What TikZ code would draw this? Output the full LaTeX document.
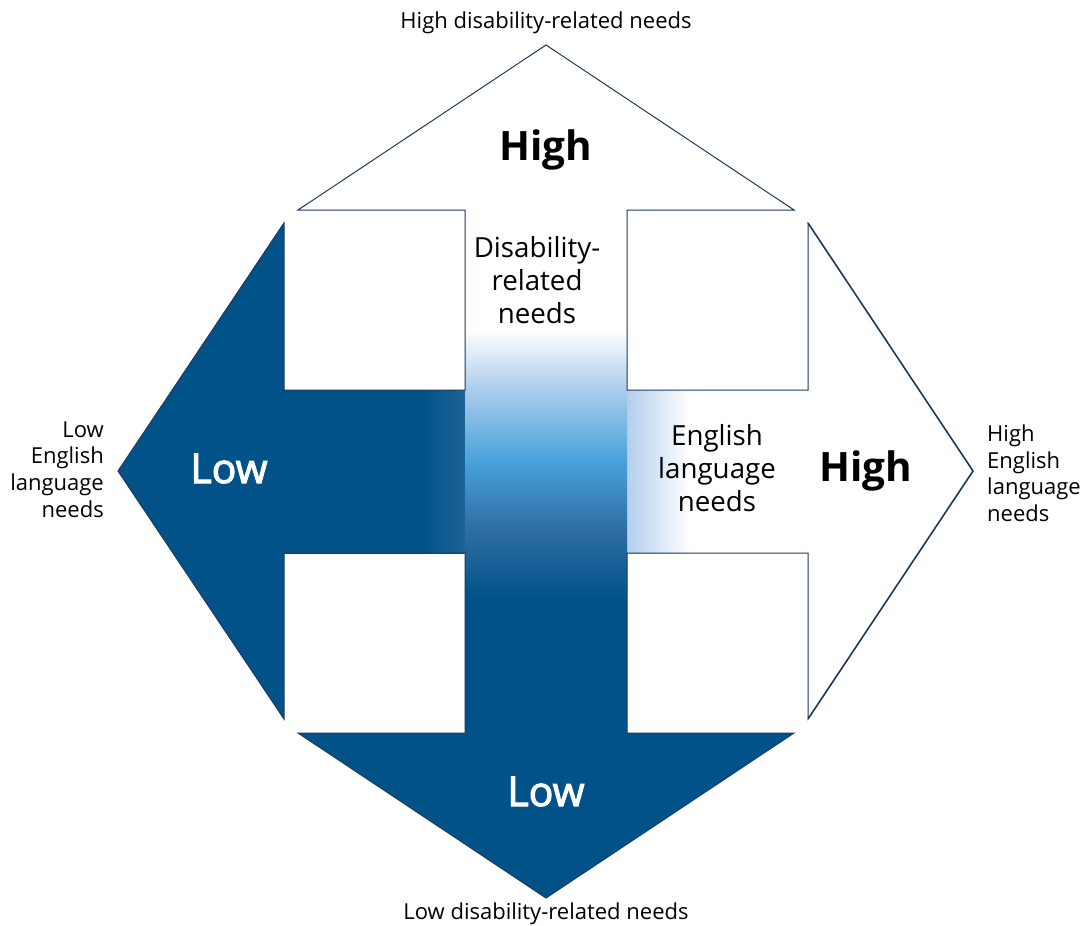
\documentclass[tikz,border=0pt]{standalone}
\usepackage{fontspec}
\setmainfont{Open Sans}
\newfontfamily\semib{Open Sans}[FakeBold=2.6]
\definecolor{dkblue}{HTML}{005288}
\definecolor{edge}{HTML}{1C3A5E}
\definecolor{vmidtwo}{HTML}{2C6EA3}
\definecolor{vmid}{HTML}{4AA2DB}
\definecolor{vlight}{HTML}{ACCCEC}
\definecolor{hmid}{HTML}{1D6396}
\definecolor{hlight}{HTML}{B3CFEE}
\pgfdeclareverticalshading{vshaft}{100bp}{color(0bp)=(dkblue); color(37.7bp)=(dkblue); color(44.4bp)=(vmidtwo); color(51.1bp)=(vmid); color(57.8bp)=(vlight); color(63.5bp)=(white); color(100bp)=(white)}
\pgfdeclarehorizontalshading{hshaft}{100bp}{color(0bp)=(dkblue); color(38bp)=(dkblue); color(42.3bp)=(hmid); color(57.7bp)=(hlight); color(63.7bp)=(white); color(100bp)=(white)}
\begin{document}
\begin{tikzpicture}[x=1pt,y=-1pt,
  small/.style={font=\fontsize{22}{26.5}\selectfont, inner sep=0pt, anchor=base},
  mid/.style={font=\fontsize{27.7}{33.3}\selectfont, inner sep=0pt, anchor=base},
  bigb/.style={font=\fontsize{40.5}{46}\selectfont\bfseries, inner sep=0pt, anchor=base},
  bigw/.style={font=\fontsize{41}{46}\selectfont\semib, text=white, inner sep=0pt, anchor=base}]
\useasboundingbox (0,0) rectangle (1084,926);
% corner coordinates
\coordinate (tt) at (546,45);
\coordinate (tl) at (298,210);
\coordinate (tr) at (794,210);
\coordinate (bt) at (546,898);
\coordinate (bl) at (298,733);
\coordinate (br) at (794,733);
\coordinate (lt) at (118,471);
\coordinate (lu) at (284,223);
\coordinate (ld) at (284,719);
\coordinate (rt) at (973,471);
\coordinate (ru) at (808,223);
\coordinate (rd) at (808,719);
% fills
\fill[white] (tt) -- (tr) -- (tl) -- cycle;
\fill[white] (rt) -- (ru) -- (rd) -- cycle;
\fill[dkblue] (bt) -- (br) -- (bl) -- cycle;
\fill[dkblue] (lt) -- (lu) -- (ld) -- cycle;
\shade[shading=hshaft] (283,390) rectangle (809,553);
\shade[shading=vshaft] (465,209) rectangle (627,734);
% outline
\draw[edge, line width=1pt, line join=miter]
  (tt) -- (tr) -- (627,210) -- (627,390) -- (808,390) -- (ru) -- (rt) -- (rd)
  -- (808,553) -- (627,553) -- (627,733) -- (br) -- (bt) -- (bl) -- (465,733)
  -- (465,553) -- (284,553) -- (ld) -- (lt) -- (lu) -- (284,390) -- (465,390)
  -- (465,210) -- (tl) -- cycle;
\draw[edge, line width=1.5pt, line join=miter] (ru) -- (rt) -- (rd);
% texts
\node[small] (toplab) at (546,28) {High disability-related needs};
\node[small] (botlab) at (546,919) {Low disability-related needs};
\node[bigb] (hightop) at (546,160) {High};
\node[bigb] (highright) at (866,481) {High};
\node[bigw] (lowleft) at (229,483) {Low};
\node[bigw] (lowbot) at (546,806) {Low};
\node[mid] (dr1) at (537,257) {Disability-};
\node[mid] (dr2) at (537,290) {related};
\node[mid] (dr3) at (537,323) {needs};
\node[mid] (en1) at (717,445) {English};
\node[mid] (en2) at (717,478) {language};
\node[mid] (en3) at (717,511) {needs};
\node[small, anchor=base east] (ll1) at (104,437) {Low};
\node[small, anchor=base east] (ll2) at (104,463) {English};
\node[small, anchor=base east] (ll3) at (104,490) {language};
\node[small, anchor=base east] (ll4) at (104,517) {needs};
\node[small, anchor=base west] (rl1) at (987,441) {High};
\node[small, anchor=base west] (rl2) at (987,468) {English};
\node[small, anchor=base west] (rl3) at (987,494) {language};
\node[small, anchor=base west] (rl4) at (987,521) {needs};
\end{tikzpicture}
\end{document}
